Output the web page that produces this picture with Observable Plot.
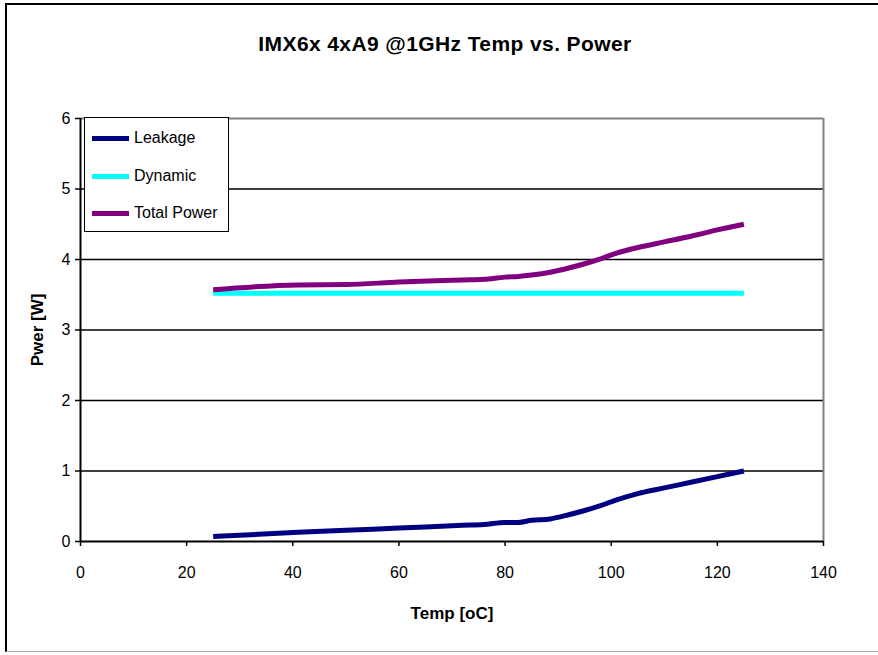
<!DOCTYPE html>
<html>
<head>
<meta charset="utf-8">
<script src="https://cdn.jsdelivr.net/npm/d3@7"></script>
<script src="https://cdn.jsdelivr.net/npm/@observablehq/plot@0.6"></script>
<style>
  html, body { margin: 0; padding: 0; background: #fff; }
  #wrap { position: relative; width: 878px; height: 655px; overflow: hidden; font-family: "Liberation Sans", Arial, sans-serif; }
  #frame { position: absolute; left: 5px; top: 3px; width: 900px; height: 649px; border-left: 2px solid #000; border-top: 2px solid #000; border-bottom: 1px solid #aaa; box-sizing: border-box; }
  #title { position: absolute; left: 0; width: 890px; top: 32px; text-align: center; font-weight: bold; font-size: 21px; letter-spacing: 0.4px; color: #000; }
  #chart { position: absolute; left: 0; top: 0; }
  #legend { position: absolute; left: 84px; top: 117px; width: 145px; height: 115px; border: 1px solid #000; background: #fff; box-sizing: border-box; }
  .item { position: absolute; left: 7px; height: 20px; font-size: 16px; line-height: 20px; }
  .sw { position: absolute; left: 0; top: 8px; width: 37px; height: 5px; }
  .lab { position: absolute; left: 42px; top: 0; white-space: nowrap; color: #000; }
</style>
</head>
<body>
<div id="wrap">
  <div id="frame"></div>
  <div id="chart"></div>
  <div id="title">IMX6x 4xA9 @1GHz Temp vs. Power</div>
  <div id="legend"></div>
</div>
<script>
// Data
const temps   = [25, 41, 50, 60, 72, 76, 80, 82.5, 85, 88.5, 92, 95, 98, 101, 105, 110, 115, 120, 125];
const leakage = [0.07, 0.13, 0.16, 0.19, 0.23, 0.24, 0.27, 0.27, 0.30, 0.32, 0.38, 0.44, 0.51, 0.59, 0.68, 0.76, 0.84, 0.92, 1.00];
const dynamic = [3.52, 3.52, 3.52, 3.52, 3.52, 3.52, 3.52, 3.52, 3.52, 3.52, 3.52, 3.52, 3.52, 3.52, 3.52, 3.52, 3.52, 3.52, 3.52];
const total   = [3.57, 3.64, 3.645, 3.68, 3.71, 3.72, 3.75, 3.76, 3.78, 3.82, 3.88, 3.94, 4.01, 4.09, 4.17, 4.25, 4.33, 4.42, 4.50];
const seriesNames = ["Leakage", "Dynamic", "Total Power"];
const seriesColors = ["#000080", "#00FFFF", "#800080"];
const xTicks = [0, 20, 40, 60, 80, 100, 120, 140];
const yTicks = [0, 1, 2, 3, 4, 5, 6];
const gridY = [1, 2, 3, 4, 5];

const seriesValues = [leakage, dynamic, total];
const rows = [];
seriesNames.forEach((name, si) => {
  temps.forEach((t, i) => rows.push({series: name, temp: t, power: seriesValues[si][i]}));
});

const fmt = d => String(d);

const chart = Plot.plot({
  width: 878,
  height: 655,
  marginLeft: 80,
  marginRight: 55,
  marginTop: 118,
  marginBottom: 114,
  style: {fontFamily: '"Liberation Sans", Arial, sans-serif', fontSize: "16px", color: "#000", background: "transparent"},
  x: {domain: [0, 140], ticks: xTicks, tickFormat: fmt, tickSize: 5, tickPadding: 20, label: "Temp [oC]", labelAnchor: "center", labelOffset: 77, labelArrow: "none"},
  y: {domain: [0, 6], ticks: yTicks, tickFormat: fmt, tickSize: 5, tickPadding: 5, label: "Pwer [W]", labelAnchor: "center", labelOffset: 50, labelArrow: "none"},
  color: {domain: seriesNames, range: seriesColors},
  marks: [
    Plot.ruleY(gridY, {stroke: "#000", strokeWidth: 1.5}),
    Plot.ruleY([6], {stroke: "#808080", strokeWidth: 2}),
    Plot.ruleX([140], {stroke: "#808080", strokeWidth: 2}),
    Plot.line(rows, {x: "temp", y: "power", z: "series", stroke: "series", strokeWidth: 5, strokeLinecap: "butt", strokeLinejoin: "round", curve: "monotone-x"}),
    Plot.ruleY([0], {stroke: "#000", strokeWidth: 2}),
    Plot.ruleX([0], {stroke: "#000", strokeWidth: 2}),
    Plot.axisX({ticks: xTicks, tickFormat: fmt, tickSize: 5, tickPadding: 20, strokeWidth: 1.5, label: "Temp [oC]", labelAnchor: "center", labelOffset: 77, labelArrow: "none"}),
    Plot.axisY({ticks: yTicks, tickFormat: fmt, tickSize: 5, tickPadding: 5, strokeWidth: 1.5, label: "Pwer [W]", labelAnchor: "center", labelOffset: 50, labelArrow: "none"})
  ]
});
document.getElementById("chart").appendChild(chart);

// style axis labels bold
chart.querySelectorAll("g[aria-label='x-axis label'] text, g[aria-label='y-axis label'] text").forEach(t => {
  t.setAttribute("font-weight", "bold");
  t.setAttribute("font-size", "17px");
});

// Legend
const legend = document.getElementById("legend");
const tops = [10, 48, 85];
seriesNames.forEach((name, i) => {
  const it = document.createElement("div");
  it.className = "item";
  it.style.top = tops[i] + "px";
  it.innerHTML = `<div class="sw" style="background:${seriesColors[i]}"></div><div class="lab">${name}</div>`;
  legend.appendChild(it);
});
</script>
</body>
</html>
